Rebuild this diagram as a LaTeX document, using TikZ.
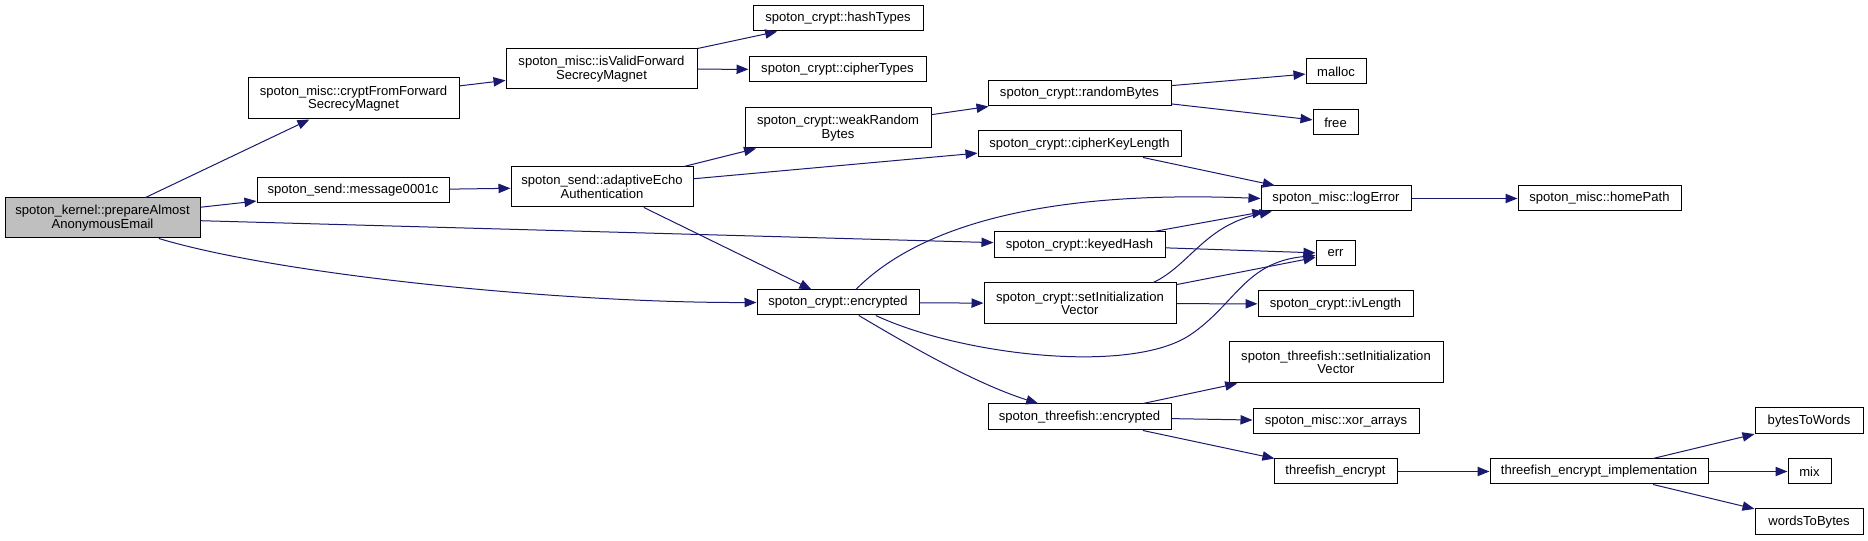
\documentclass[tikz,border=0pt]{standalone}
\usepackage{fontspec}
\setmainfont{Liberation Sans}
\usetikzlibrary{arrows.meta}

\definecolor{edgeblue}{HTML}{191970}
\definecolor{rootgray}{HTML}{BFBFBF}

\begin{document}
\begin{tikzpicture}[
    x=0.75pt, y=-0.75pt,
    fn/.style={draw=black, line width=0.75pt, fill=white, inner sep=0pt,
               align=center, font=\fontsize{9.8}{10}\selectfont},
    root/.style={fn, fill=rootgray},
    wh/.style 2 args={minimum width=#1*0.75pt, minimum height=#2*0.75pt},
    call/.style={-{Triangle[length=9pt,width=7pt]}, line width=0.75pt,
                 edgeblue},
]
\useasboundingbox (0,0) rectangle (1868,541);

% Caller
\node[root, wh={195}{40}] (kernel) at (102.5,218)
    {spoton\_kernel::prepareAlmost\\AnonymousEmail};

% First level
\node[fn, wh={211}{41}] (cryptFrom) at (353.5,98.5)
    {spoton\_misc::cryptFromForward\\SecrecyMagnet};
\node[fn, wh={192}{25}] (msg) at (353,190.5) {spoton\_send::message0001c};

% Second level
\node[fn, wh={191}{40}] (isValid) at (601.5,69)
    {spoton\_misc::isValidForward\\SecrecyMagnet};
\node[fn, wh={182}{40}] (adaptive) at (602,187)
    {spoton\_send::adaptiveEcho\\Authentication};

% Third level
\node[fn, wh={170}{25}] (hashTypes) at (838,18.5) {spoton\_crypt::hashTypes};
\node[fn, wh={177}{25}] (cipherTypes) at (837.5,69.5) {spoton\_crypt::cipherTypes};
\node[fn, wh={186}{40}] (weakRandom) at (838,128)
    {spoton\_crypt::weakRandom\\Bytes};
\node[fn, wh={162}{25}] (encrypted) at (838,302.5) {spoton\_crypt::encrypted};

% Fourth level
\node[fn, wh={183}{25}] (randomBytes) at (1079.5,93.5) {spoton\_crypt::randomBytes};
\node[fn, wh={203}{26}] (keyLength) at (1079.5,144) {spoton\_crypt::cipherKeyLength};
\node[fn, wh={171}{26}] (keyedHash) at (1079.5,245) {spoton\_crypt::keyedHash};
\node[fn, wh={192}{41}] (setInitCrypt) at (1080,303.5)
    {spoton\_crypt::setInitialization\\Vector};
\node[fn, wh={183}{26}] (tfEncrypted) at (1079.5,417) {spoton\_threefish::encrypted};

% Fifth level
\node[fn, wh={60}{25}] (malloc) at (1336,71.5) {malloc};
\node[fn, wh={45}{25}] (free) at (1335.5,122.5) {free};
\node[fn, wh={150}{25}] (logError) at (1336,198.5) {spoton\_misc::logError};
\node[fn, wh={39}{25}] (err) at (1335.5,253.5) {err};
\node[fn, wh={155}{26}] (ivLength) at (1335.5,304) {spoton\_crypt::ivLength};
\node[fn, wh={214}{41}] (tfSetInit) at (1336,362.5)
    {spoton\_threefish::setInitialization\\Vector};
\node[fn, wh={166}{25}] (xorArrays) at (1336,421.5) {spoton\_misc::xor\_arrays};
\node[fn, wh={123}{25}] (tfEncrypt) at (1335.5,471.5) {threefish\_encrypt};

% Sixth level
\node[fn, wh={163}{25}] (homePath) at (1599.5,198.5) {spoton\_misc::homePath};
\node[fn, wh={218}{25}] (tfImpl) at (1599,471.5) {threefish\_encrypt\_implementation};

% Last level
\node[fn, wh={108}{26}] (bytesToWords) at (1809,421) {bytesToWords};
\node[fn, wh={43}{25}] (mix) at (1809.5,471.5) {mix};
\node[fn, wh={108}{26}] (wordsToBytes) at (1809,522) {wordsToBytes};

% Calls
\draw[call] (kernel) -- (cryptFrom);
\draw[call] (kernel) -- (msg);
\draw[call] (kernel) -- (keyedHash);
\draw[call] (kernel.-20) .. controls (280,275) and (560,303) .. (encrypted.west);
\draw[call] (cryptFrom) -- (isValid);
\draw[call] (msg) -- (adaptive);
\draw[call] (isValid) -- (hashTypes);
\draw[call] (isValid) -- (cipherTypes);
\draw[call] (adaptive) -- (weakRandom);
\draw[call] (adaptive) -- (keyLength);
\draw[call] (adaptive) -- (encrypted);
\draw[call] (weakRandom) -- (randomBytes);
\draw[call] (randomBytes) -- (malloc);
\draw[call] (randomBytes) -- (free);
\draw[call] (keyLength) -- (logError);
\draw[call] (encrypted.36) .. controls (900,245) and (1000,188) .. (logError.west);
\draw[call] (encrypted.-19) .. controls (960,355) and (1130,375) .. (1190,335)
    .. controls (1235,305) and (1245,262) .. ([yshift=-1.5pt]err.west);
\draw[call] (encrypted) -- (setInitCrypt);
\draw[call] (encrypted.-32) .. controls (920,352) and (980,385)
    .. ([xshift=-31pt]tfEncrypted.north);
\draw[call] (keyedHash) -- (logError);
\draw[call] (keyedHash) -- (err);
\draw[call] ([xshift=55pt]setInitCrypt.north) .. controls (1190,265) and (1205,225)
    .. (logError);
\draw[call] (setInitCrypt) -- (err);
\draw[call] (setInitCrypt) -- (ivLength);
\draw[call] (logError) -- (homePath);
\draw[call] (tfEncrypted) -- (tfSetInit);
\draw[call] (tfEncrypted) -- (xorArrays);
\draw[call] (tfEncrypted) -- (tfEncrypt);
\draw[call] (tfEncrypt) -- (tfImpl);
\draw[call] (tfImpl) -- (bytesToWords);
\draw[call] (tfImpl) -- (mix);
\draw[call] (tfImpl) -- (wordsToBytes);

\end{tikzpicture}
\end{document}
